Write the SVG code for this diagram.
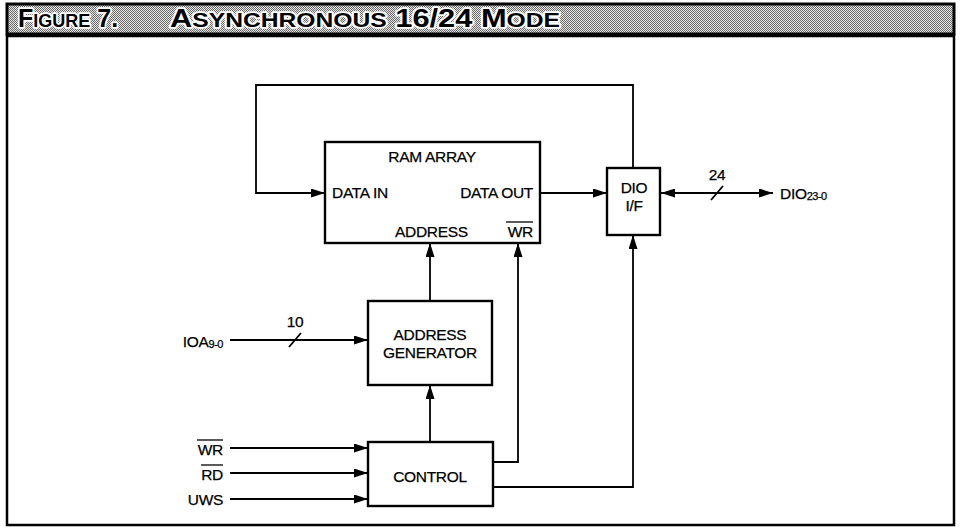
<svg xmlns="http://www.w3.org/2000/svg" width="961" height="530" viewBox="0 0 961 530">
<style>
.box{fill:#fff;stroke:#000;stroke-width:2.4}
.ln{fill:none;stroke:#000;stroke-width:1.8}
.t{font-family:"Liberation Sans",Arial,sans-serif;font-size:15.5px;fill:#000;stroke:#000;stroke-width:0.25;letter-spacing:-0.3px}
.sub{font-size:11px;letter-spacing:-0.5px}
.c{text-anchor:middle}
.e{text-anchor:end}
.title{font-family:"Liberation Sans",Arial,sans-serif;font-weight:bold;font-size:25px;fill:#000;stroke:#fff;stroke-width:3.5;stroke-linejoin:round;paint-order:stroke}
</style>
<defs>
<pattern id="dots" width="2" height="2" patternUnits="userSpaceOnUse">
<rect width="2" height="2" fill="#e6e6e6"/>
<rect x="0" y="0" width="1" height="1" fill="#6a6a6a"/>
<rect x="1" y="1" width="1" height="1" fill="#6a6a6a"/>
</pattern>
<marker id="ah" viewBox="0 0 14 9" refX="14" refY="4.5" markerWidth="14" markerHeight="9" markerUnits="userSpaceOnUse" orient="auto-start-reverse">
<path d="M0,0 L14,4.5 L0,9 Z" fill="#000"/>
</marker>
</defs>
<rect width="961" height="530" fill="#fff"/>
<g id="frame">
<rect x="7" y="4" width="947" height="30" fill="url(#dots)" stroke="#000" stroke-width="3"/>
<rect x="7" y="36" width="947" height="489" fill="#fff" stroke="#000" stroke-width="2.5"/>
<text class="title" x="18" y="27" font-size="23">F<tspan font-size="18">IGURE</tspan> 7.</text>
<text class="title" x="170" y="27" textLength="390" lengthAdjust="spacingAndGlyphs">A<tspan font-size="20">SYNCHRONOUS</tspan> 16/24 M<tspan font-size="20">ODE</tspan></text>
</g>
<g id="connectors">
<polyline class="ln" points="633,168 633,85 256,85 256,193 325,193" marker-end="url(#ah)"/>
<line class="ln" x1="540" y1="193" x2="607" y2="193" marker-end="url(#ah)"/>
<line class="ln" x1="661" y1="193" x2="773" y2="193" marker-start="url(#ah)" marker-end="url(#ah)"/>
<line class="ln" x1="711" y1="200" x2="723" y2="186"/>
<line class="ln" x1="430" y1="301" x2="430" y2="243" marker-end="url(#ah)"/>
<line class="ln" x1="230" y1="340" x2="368" y2="340" marker-end="url(#ah)"/>
<line class="ln" x1="289" y1="347" x2="301" y2="333"/>
<line class="ln" x1="430" y1="442" x2="430" y2="385" marker-end="url(#ah)"/>
<polyline class="ln" points="493,462 518,462 518,243" marker-end="url(#ah)"/>
<polyline class="ln" points="493,487 633,487 633,235" marker-end="url(#ah)"/>
<line class="ln" x1="230" y1="448" x2="368" y2="448" marker-end="url(#ah)"/>
<line class="ln" x1="230" y1="473" x2="368" y2="473" marker-end="url(#ah)"/>
<line class="ln" x1="230" y1="499" x2="368" y2="499" marker-end="url(#ah)"/>
</g>
<g id="ram">
<rect class="box" x="325" y="142" width="215" height="101"/>
<text class="t c" x="432" y="162">RAM ARRAY</text>
<text class="t" x="332" y="198">DATA IN</text>
<text class="t e" x="533" y="198">DATA OUT</text>
<text class="t" x="395" y="237">ADDRESS</text>
<text class="t e" x="533" y="237">WR</text>
<line x1="506" y1="222" x2="533" y2="222" stroke="#000" stroke-width="1.3"/>
</g>
<g id="dio">
<rect class="box" x="607" y="168" width="53" height="67"/>
<text class="t c" x="634" y="193">DIO</text>
<text class="t c" x="634" y="211">I/F</text>
</g>
<g id="addrgen">
<rect class="box" x="368" y="301" width="124" height="84"/>
<text class="t c" x="430" y="340">ADDRESS</text>
<text class="t c" x="430" y="358">GENERATOR</text>
</g>
<g id="control">
<rect class="box" x="368" y="442" width="125" height="64"/>
<text class="t c" x="430" y="482">CONTROL</text>
</g>
<g id="labels">
<text class="t c" x="717" y="180">24</text>
<text class="t" x="780" y="199">DIO<tspan class="sub" dy="1">23-0</tspan></text>
<text class="t c" x="295" y="327">10</text>
<text class="t e" x="223" y="347">IOA<tspan class="sub" dy="1">9-0</tspan></text>
<text class="t e" x="223" y="455">WR</text>
<line x1="197" y1="440" x2="223" y2="440" stroke="#000" stroke-width="1.3"/>
<text class="t e" x="223" y="480">RD</text>
<line x1="201" y1="465" x2="223" y2="465" stroke="#000" stroke-width="1.3"/>
<text class="t e" x="223" y="505">UWS</text>
</g>
</svg>
